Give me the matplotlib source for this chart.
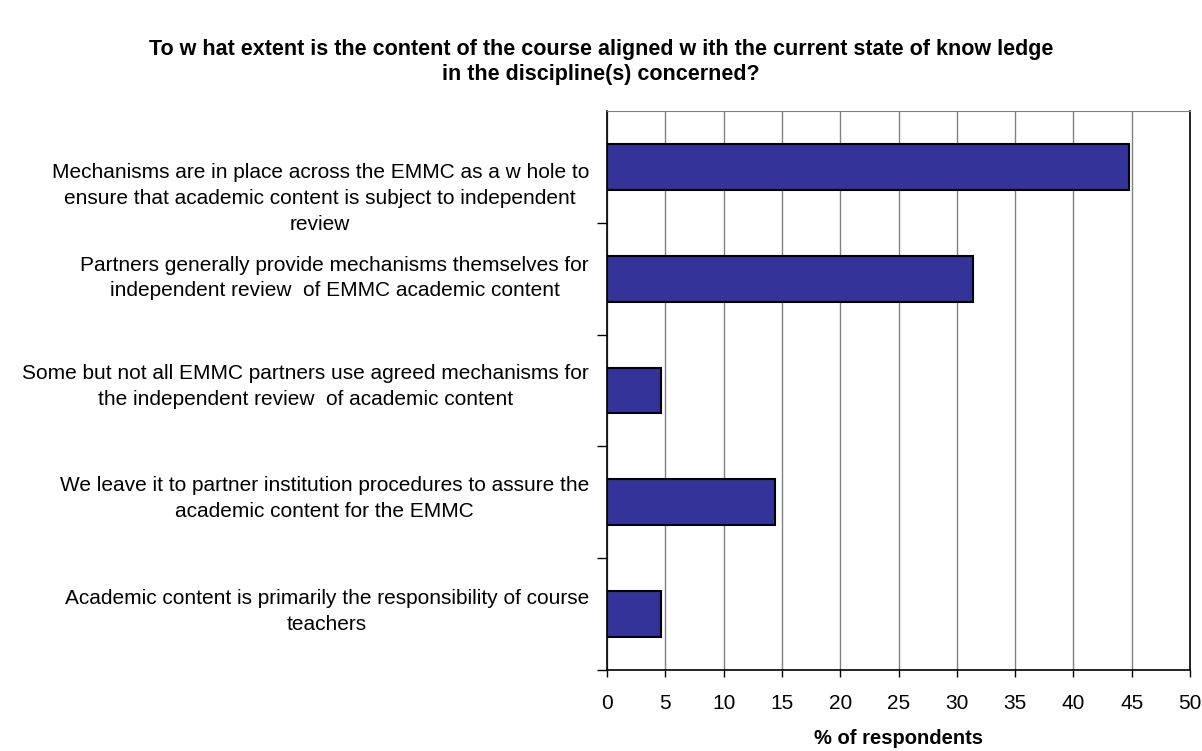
import matplotlib.pyplot as plt
import matplotlib.transforms as mtransforms

plt.rcParams['font.family'] = ['Liberation Sans', 'DejaVu Sans']

# answers, top to bottom as in the chart
answers = [
    "Mechanisms are in place across the EMMC as a w hole to\nensure that academic content is subject to independent\nreview",
    "Partners generally provide mechanisms themselves for\nindependent review  of EMMC academic content",
    "Some but not all EMMC partners use agreed mechanisms for\nthe independent review  of academic content",
    "We leave it to partner institution procedures to assure the\nacademic content for the EMMC",
    "Academic content is primarily the responsibility of course\nteachers",
]
percent = [44.8, 31.4, 4.6, 14.4, 4.6]
xticks = list(range(0, 55, 5))

fig = plt.figure(figsize=(12.02, 7.51), dpi=100)
ax = fig.add_axes([607 / 1202, 1 - 670 / 751, (1190 - 607) / 1202, (670 - 111) / 751])

pos = list(range(len(answers)))
ax.barh(pos, percent, height=0.41, color="#333399", edgecolor="black", linewidth=1.5, zorder=3)

ax.set_xlim(0, 50)
ax.set_ylim(len(answers) - 0.5, -0.5)
ax.set_xticks(xticks)
ax.set_xticklabels([str(t) for t in xticks], fontsize=15)
ax.tick_params(axis="x", length=5, width=1, pad=12, direction="out")
ax.xaxis.grid(True, color="#808080", linewidth=1, zorder=0)

# category boundaries carry the tick marks, centres carry the labels
ax.set_yticks([p + 0.5 for p in pos])
ax.set_yticklabels([])
ax.tick_params(axis="y", which="major", length=7, width=1)
ax.set_yticks(pos, minor=True)
ax.set_yticklabels(answers, minor=True, fontsize=15, multialignment="center", linespacing=1.45)
ax.tick_params(axis="y", which="minor", length=0, pad=13)

offsets = [-26, 6, 9, 9, 8]
for lab, dy in zip(ax.get_yticklabels(minor=True), offsets):
    lab.set_transform(lab.get_transform() + mtransforms.ScaledTranslation(0, dy / 100, fig.dpi_scale_trans))

for side in ["left", "bottom", "right"]:
    ax.spines[side].set_color("black")
    ax.spines[side].set_linewidth(1.2)
ax.spines["top"].set_color("#808080")

ax.set_xlabel("% of respondents", fontsize=14.5, fontweight="bold", va="center")
ax.xaxis.set_label_coords(0.5, -69 / 559)
fig.text(0.5, 1 - 62 / 751,
         "To w hat extent is the content of the course aligned w ith the current state of know ledge\nin the discipline(s) concerned?",
         ha="center", va="center", fontsize=15.5, fontweight="bold", linespacing=1.25)

fig.savefig("out.png", dpi=100)
